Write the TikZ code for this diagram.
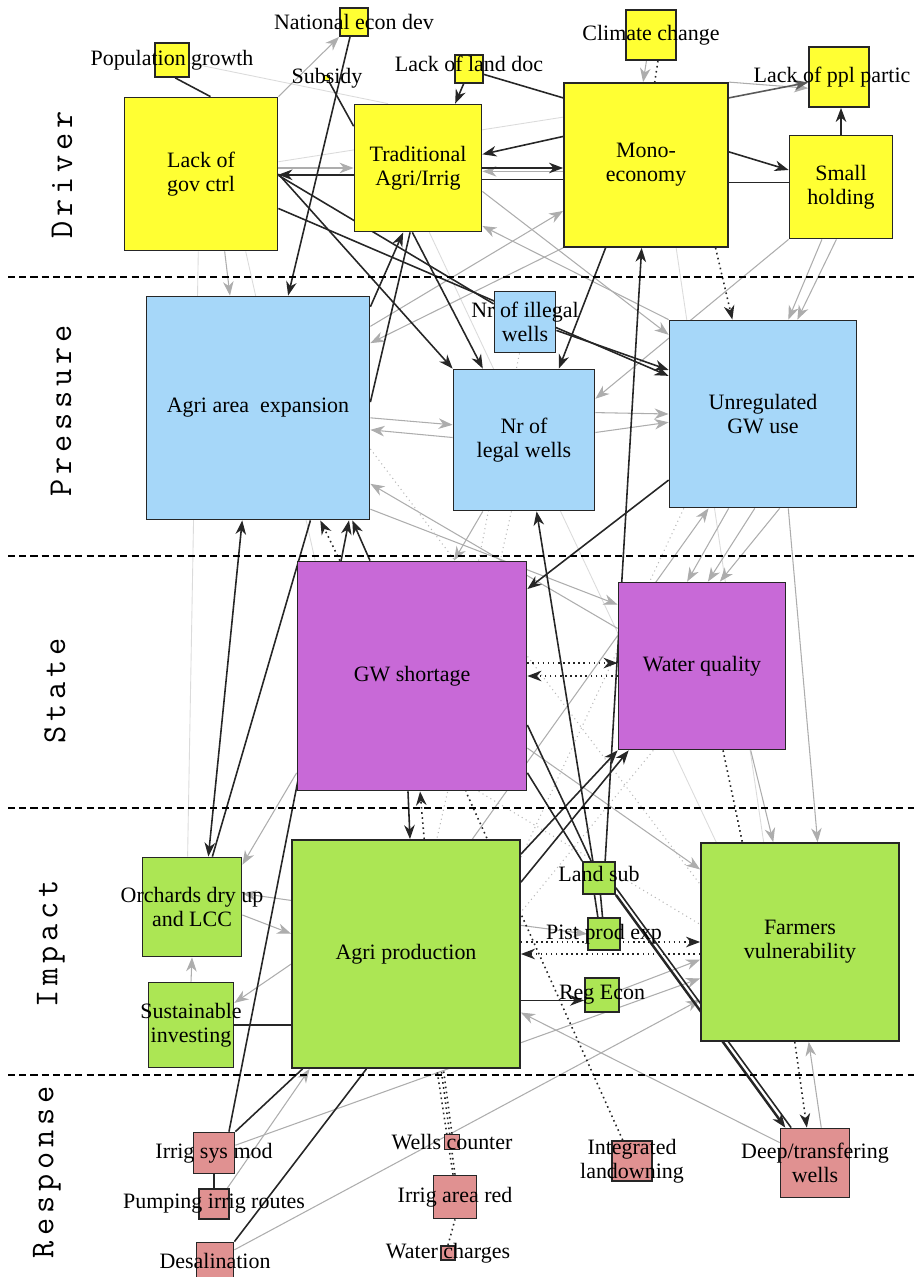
\documentclass[tikz,border=0pt]{standalone}
\usepackage{fontspec}
\setmainfont{Liberation Serif}
\usepackage{xcolor}
\usetikzlibrary{arrows.meta,backgrounds}

\definecolor{drvyel}{RGB}{255,255,51}
\definecolor{prsblue}{RGB}{166,215,249}
\definecolor{stapur}{RGB}{200,105,215}
\definecolor{impgreen}{RGB}{172,230,84}
\definecolor{rsppink}{RGB}{224,145,145}
\newcommand\lsp{\kern2.8pt}

\begin{document}
\begin{tikzpicture}[
    x=0.02cm, y=-0.02cm,
    >={Stealth[length=8pt, width=6pt, inset=2.5pt]},
    box/.style={rectangle, draw=black!85, line width=1pt, inner sep=0pt},
    sz/.style={minimum width=#1*0.02cm, minimum height=#1*0.02cm},
    drvbox/.style={box, fill=drvyel},
    prsbox/.style={box, fill=prsblue},
    stabox/.style={box, fill=stapur},
    impbox/.style={box, fill=impgreen},
    rspbox/.style={box, fill=rsppink},
    txt/.style={font=\fontsize{12.5}{13.5}\selectfont, align=center, inner sep=0pt},
    dpsirlab/.style={font=\ttfamily\fontsize{19}{19}\selectfont, rotate=90, inner sep=0pt},
    divider/.style={dash pattern=on 4pt off 2.4pt, line width=1.1pt},
    arrow/.style={->, draw=black!85, line width=0.9pt},
    link/.style={draw=black!85, line width=0.9pt},
    dotarrow/.style={arrow, dotted},
    dotline/.style={link, dotted},
    grey/.style={->, draw=black!32, line width=0.6pt},
    greydot/.style={draw=black!28, dotted, line width=0.6pt},
    faint/.style={draw=black!14, line width=0.5pt}
]
    \useasboundingbox (0,0) rectangle (914,1277);

    % DPSIR bands
    \draw[divider] (8,277) -- (914,277);
    \draw[divider] (8,556) -- (914,556);
    \draw[divider] (8,808) -- (914,808);
    \draw[divider] (8,1075) -- (914,1075);
    \node[dpsirlab] (drvlab) at (62,175) {D\lsp r\lsp i\lsp v\lsp e\lsp r};
    \node[dpsirlab] (prslab) at (61,411) {P\lsp r\lsp e\lsp s\lsp s\lsp u\lsp r\lsp e};
    \node[dpsirlab] (stalab) at (55,691) {S\lsp t\lsp a\lsp t\lsp e};
    \node[dpsirlab] (implab) at (51,944) {I\lsp m\lsp p\lsp a\lsp c\lsp t};
    \node[dpsirlab] (rsplab) at (47,1172) {R\lsp e\lsp s\lsp p\lsp o\lsp n\lsp s\lsp e};

    % Driver
    \node[drvbox, sz=34, label={[txt]center:Population growth}] (popg) at (172,60) {};
    \node[drvbox, sz=28, label={[txt]center:National econ dev}] (natecon) at (354,22) {};
    \node[drvbox, sz=5, label={[txt]center:Subsidy}] (subsidy) at (327,78) {};
    \node[drvbox, sz=28, label={[txt, yshift=3pt]center:Lack of land doc}] (landdoc) at (469,69) {};
    \node[drvbox, sz=50, label={[txt]center:Climate change}] (climate) at (651,35) {};
    \node[drvbox, sz=60, label={[txt, xshift=-4pt]center:Lack of ppl partic}] (pplpartic) at (839,77) {};
    \node[drvbox, sz=153, label={[txt]center:Lack of\\gov ctrl}] (govctrl) at (201,174) {};
    \node[drvbox, sz=127, label={[txt]center:Traditional\\Agri/Irrig}] (trad) at (418,168) {};
    \node[drvbox, sz=164, label={[txt]center:Mono-\\economy}] (mono) at (646,165) {};
    \node[drvbox, sz=103, label={[txt]center:Small\\holding}] (smallhold) at (841,187) {};

    % Pressure
    \node[prsbox, sz=223, label={[txt]center:Agri area\ \ expansion}] (agriarea) at (258,408) {};
    \node[prsbox, sz=61, label={[txt]center:Nr of illegal\\wells}] (illegal) at (525,322) {};
    \node[prsbox, sz=141, label={[txt]center:Nr of\\legal wells}] (legalwells) at (524,440) {};
    \node[prsbox, sz=187, label={[txt]center:Unregulated\\GW use}] (unreg) at (763,414) {};

    % State
    \node[stabox, sz=229, label={[txt]center:GW shortage}] (gwshort) at (412,676) {};
    \node[stabox, sz=167, label={[txt]center:Water quality}] (waterq) at (702,666) {};

    % Impact
    \node[impbox, sz=99, label={[txt]center:Orchards dry up\\and LCC}] (orchards) at (192,907) {};
    \node[impbox, sz=85, label={[txt]center:Sustainable\\investing}] (sustinv) at (191,1025) {};
    \node[impbox, sz=228, label={[txt]center:Agri production}] (agriprod) at (406,954) {};
    \node[impbox, sz=32, label={[txt, yshift=2.5pt]center:Land sub}] (landsub) at (599,878) {};
    \node[impbox, sz=32, label={[txt]center:Pist prod exp}] (pistprod) at (604,934) {};
    \node[impbox, sz=34, label={[txt]center:Reg Econ}] (regecon) at (602,995) {};
    \node[impbox, sz=198, label={[txt]center:Farmers\\vulnerability}] (farmers) at (800,942) {};

    % Response
    \node[rspbox, sz=41, label={[txt]center:Irrig sys mod}] (irrigsys) at (214,1153) {};
    \node[rspbox, sz=30, label={[txt]center:Pumping irrig routes}] (pumping) at (214,1204) {};
    \node[rspbox, sz=37, label={[txt]center:Desalination}] (desal) at (215,1261) {};
    \node[rspbox, sz=15, label={[txt]center:Wells counter}] (wellsc) at (452,1142) {};
    \node[rspbox, sz=43, label={[txt]center:Irrig area red}] (irrigred) at (455,1197) {};
    \node[rspbox, sz=14, label={[txt]center:Water charges}] (waterch) at (448,1253) {};
    \node[rspbox, sz=40, label={[txt]center:Integrated\\landowning}] (integ) at (632,1161) {};
    \node[rspbox, sz=69, label={[txt]center:Deep/transfering\\wells}] (deepw) at (815,1163) {};

    \begin{scope}[on background layer]
    % faint links
    \draw[faint] (popg.-10) -- (trad.115);
    \draw[faint] (mono.150) -- (govctrl.9);
    \draw[faint] (trad.-80) -- (farmers.130);
    \draw[faint] (mono.-70) -- (farmers.110);
    \draw[faint] (govctrl.-60) -- (gwshort.130);
    \draw[faint] (govctrl.-92) -- (orchards.95);

    % grey links
    \draw[grey] (govctrl.-73) -- (agriarea.104);
    \draw[grey] (trad.west -| govctrl.east) -- (trad.west);
    \draw[grey] (trad.-3 -| mono.west) -- (trad.-3);
    \draw[grey] (mono.45) -- (pplpartic.200);
    \draw[grey] (climate.-100) -- (mono.92);
    \draw[grey] (govctrl.north east) -- (natecon.-135);
    \draw[grey] (mono.south west) -- (agriarea.30);
    \draw[grey] (agriarea.36) -- (mono.209);
    \draw[grey] (unreg.135) -- (trad.-42);
    \draw[grey] (trad.-20) -- (unreg.140);
    \draw[grey] (legalwells.21) -- (unreg.180);
    \draw[grey] (legalwells.6) -- (unreg.185);
    \draw[grey] (agriarea.-5) -- (legalwells.168);
    \draw[grey] (legalwells.178) -- (agriarea.-11);
    \draw[grey] (waterq.156) -- (agriarea.-34);
    \draw[grey] (agriarea.-42) -- (waterq.144);
    \draw[grey] (legalwells.-120) -- (gwshort.70);
    \draw[grey] (unreg.-110) -- (waterq.100);
    \draw[grey] (unreg.-95) -- (waterq.86);
    \draw[grey] (unreg.-80) -- (waterq.78);
    \draw[grey] (smallhold.-110) -- (unreg.75);
    \draw[grey] (smallhold.-95) -- (unreg.70);
    \draw[grey] (smallhold.-135) -- (legalwells.30);
    \draw[grey] (waterq.-60) -- (farmers.105);
    \draw[grey] (unreg.-75) -- (farmers.80);
    \draw[grey] (gwshort.-32) -- (farmers.144);
    \draw[grey] (agriprod.60) -- (unreg.-120);
    \draw[grey] (gwshort.-140) -- (orchards.40);
    \draw[grey] (agriprod.155) -- (orchards.15);
    \draw[grey] (orchards.-9) -- (agriprod.170);
    \draw[grey] (agriprod.185) -- (sustinv.27);
    \draw[grey] (sustinv.north) -- (orchards.south);
    \draw[grey] (pumping.50) -- (agriprod.230);
    \draw[grey] (irrigsys.20) -- (farmers.200);
    \draw[grey] (desal.30) -- (farmers.210);
    \draw[grey] (deepw.150) -- (agriprod.-27);
    \draw[grey] (deepw.80) -- (farmers.-85);
    \draw[grey] (regecon.15) -- (farmers.190);
    \draw[grey] (agriprod.14) -- (pistprod.west);

    % grey dotted links
    \draw[greydot] (legalwells.-100) -- (agriprod.75);
    \draw[greydot] (unreg.-130) -- (agriprod.40);
    \draw[greydot] (agriarea.-20) -- (farmers.150);
    \draw[greydot] (waterq.-120) -- (agriprod.20);
    \draw[greydot] (gwshort.-60) -- (farmers.170);
    \draw[greydot] (illegal.-100) -- (gwshort.60);

    % dark links
    \draw[link] (popg.-80) -- (govctrl.83);
    \draw[arrow] (natecon.-105) -- (agriarea.75);
    \draw[link] (subsidy) -- (trad.147);
    \draw[arrow] (landdoc.-110) -- (trad.60);
    \draw[link] (mono.141) -- (landdoc.-20);
    \draw[arrow] (trad.186) -- (trad.186 -| govctrl.east);
    \draw[arrow] (mono.161) -- (trad.12);
    \draw[arrow] (trad.east) -- (trad.east -| mono.west);
    \draw[link] (trad.-10) -- (trad.-10 -| mono.west);
    \draw[arrow] (mono.9) -- (smallhold.162);
    \draw[arrow, draw=black!65] (mono.39) -- (pplpartic.190);
    \draw[arrow] (smallhold.north) -- (smallhold.north |- pplpartic.south);
    \draw[link] (mono.-12) -- (mono.-12 -| smallhold.west);
    \draw[arrow] (trad.-95) -- (legalwells.120);
    \draw[arrow] (govctrl.east) -- (legalwells.north west);
    \draw[arrow] (mono.-116) -- (legalwells.64);
    \draw[link] (govctrl.-1) -- (illegal.150);
    \draw[arrow] (govctrl.-24) -- (unreg.158);
    \draw[arrow] (illegal.-15) -- (unreg.155);
    \draw[arrow] (agriarea.42) -- (trad.-103);
    \draw[link] (agriarea.3) -- (trad.-97);
    \draw[arrow] (landsub.110) -- (legalwells.-80);
    \draw[arrow] (unreg.215) -- (gwshort.37);
    \draw[arrow] (landsub.70) -- (mono.-93);
    \draw[arrow] (agriprod.41) -- (waterq.225);
    \draw[arrow] (agriprod.32) -- (waterq.229);
    \draw[arrow, line width=1.4pt] (landsub.-45) -- (deepw.130);
    \draw[link] (landsub.-30) -- (deepw.124);
    \draw[link] (gwshort.-23) -- (landsub.115);
    \draw[link] (gwshort.-40) -- (landsub.135);
    \draw[link] (landsub.-105) -- (pistprod.110);
    \draw[link] (landsub.-85) -- (pistprod.95);
    \draw[arrow] (gwshort.-92) -- (agriprod.88);
    \draw[dotarrow] (agriprod.81) -- (gwshort.-86);
    \draw[dotarrow] (waterq.178 -| gwshort.east) -- (waterq.178);
    \draw[dotarrow] (gwshort.east -| waterq.west) -- (gwshort.east);
    \draw[dotarrow] (farmers.west -| agriprod.east) -- (farmers.west);
    \draw[dotarrow] (agriprod.east -| farmers.west) -- (agriprod.east);
    \draw[arrow] (agriprod.-22) -- (agriprod.-22 -| regecon.west);
    \draw[link] (sustinv.east) -- (sustinv.east -| agriprod.west);
    \draw[link] (irrigsys.south) -- (pumping.north);
    \draw[link] (irrigsys.north east) -- (agriprod.228);
    \draw[arrow] (irrigsys.55) -- (agriarea.-51);
    \draw[link] (desal.north east) -- (agriprod.251);
    \draw[arrow, <->] (agriarea.-98) -- (orchards.72);
    \draw[link] (agriarea.-65) -- (orchards.68);
    \draw[arrow] (gwshort.110) -- (agriarea.-50);
    \draw[dotarrow] (gwshort.122) -- (agriarea.-61);
    \draw[dotarrow] (mono.-50) -- (unreg.108);
    \draw[dotline] (climate.-75) -- (mono.84);
    \draw[dotarrow] (farmers.-93) -- (deepw.103);
    \draw[dotline] (waterq.-76) -- (farmers.120);
    \draw[dotline] (integ.114) -- (gwshort.-65);
    \draw[dotline] (wellsc.north) -- (agriprod.-72);
    \draw[dotline] (irrigred.north) -- (agriprod.-73);
    \draw[dotline] (irrigred.95) -- (agriprod.-75);
    \draw[dotline] (waterch.north) -- (irrigred.south);
    \end{scope}
\end{tikzpicture}
\end{document}
